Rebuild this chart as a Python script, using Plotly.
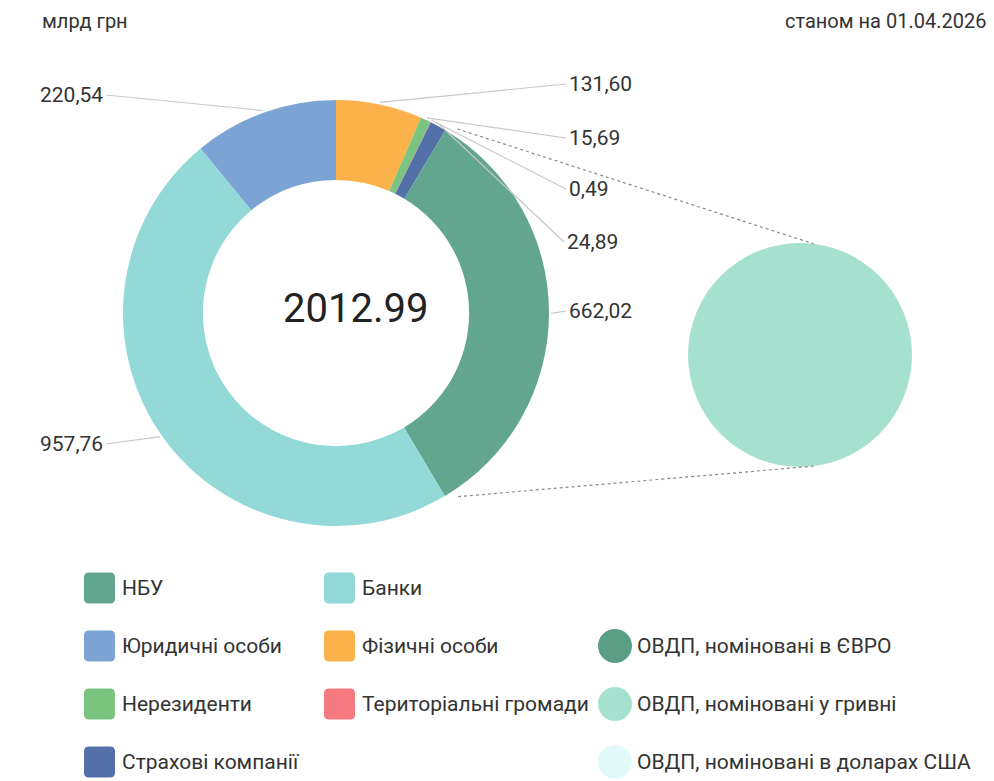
import math
import plotly.graph_objects as go

W, H = 994, 781

# ---------------- data ----------------
categories = ["Фізичні особи", "Нерезиденти", "Територіальні громади",
              "Страхові компанії", "НБУ", "Банки", "Юридичні особи"]
values = [131.60, 15.69, 0.49, 24.89, 662.02, 957.76, 220.54]
value_labels = ["131,60", "15,69", "0,49", "24,89", "662,02", "957,76", "220,54"]
colors = ["#fbb24b", "#7bc47f", "#f47a80", "#5470a8", "#62a690", "#93d9d8", "#7ba3d3"]

ovdp_labels = ["ОВДП, номіновані в ЄВРО", "ОВДП, номіновані у гривні",
               "ОВДП, номіновані в доларах США"]
ovdp_values = [0, 662.02, 0]
ovdp_colors = ["#5a9e85", "#a6e1cf", "#e3fafa"]
breakdown_of = "НБУ"

total_text = "2012.99"
unit_text = "млрд грн"
date_text = "станом на 01.04.2026"

legend_rows = [
    ["НБУ", "Банки", None],
    ["Юридичні особи", "Фізичні особи", "ОВДП, номіновані в ЄВРО"],
    ["Нерезиденти", "Територіальні громади", "ОВДП, номіновані у гривні"],
    ["Страхові компанії", None, "ОВДП, номіновані в доларах США"],
]

# ---------------- layout constants (pixels) ----------------
D_CX, D_CY, D_R = 336, 313, 213
HOLE = 0.625
B_CX, B_CY, B_R = 800, 355, 112

label_pos = {
    "Фізичні особи": (567, 84, "left"),
    "Нерезиденти": (567, 138, "left"),
    "Територіальні громади": (567, 189, "left"),
    "Страхові компанії": (565, 242, "left"),
    "НБУ": (567, 311, "left"),
    "Банки": (105, 444, "right"),
    "Юридичні особи": (105, 95, "right"),
}

FONT = "Roboto, 'Open Sans', sans-serif"
TXT = "#333333"


def dom(cx, cy, r):
    return dict(x=[(cx - r) / W, (cx + r) / W], y=[1 - (cy + r) / H, 1 - (cy - r) / H])


def ring_point(frac, r):
    a = 2 * math.pi * frac
    return D_CX + r * math.sin(a), D_CY - r * math.cos(a)


fig = go.Figure()

fig.add_trace(go.Pie(
    labels=categories, values=values, hole=HOLE, sort=False, direction="clockwise",
    rotation=0, marker=dict(colors=colors, line=dict(width=0)),
    textinfo="none", showlegend=False, domain=dom(D_CX, D_CY, D_R),
))
fig.add_trace(go.Pie(
    labels=ovdp_labels, values=ovdp_values, sort=False, direction="clockwise",
    marker=dict(colors=ovdp_colors, line=dict(width=0)),
    textinfo="none", showlegend=False, domain=dom(B_CX, B_CY, B_R),
))

# invisible pixel-space axes for annotations/shapes
fig.add_trace(go.Scatter(x=[0, W], y=[0, H], mode="markers", marker=dict(opacity=0),
                         hoverinfo="skip", showlegend=False))

shapes = []
annotations = []

total = sum(values)
cum = 0.0
for cat, v, lab in zip(categories, values, value_labels):
    start = cum / total
    end = (cum + v) / total
    mid = (start + end) / 2
    cum += v
    px, py = ring_point(mid, D_R * 1.01)
    lx, ly, side = label_pos[cat]
    ex = lx - 1 if side == "left" else lx + 1
    shapes.append(dict(type="line", xref="x", yref="y", x0=px, y0=py, x1=ex, y1=ly,
                       line=dict(color="#c8c8c8", width=1.2)))
    annotations.append(dict(x=lx, y=ly, xref="x", yref="y", text=lab, showarrow=False,
                            xanchor=side, yanchor="middle",
                            font=dict(family=FONT, size=21, color=TXT)))
    if cat == breakdown_of:
        tdx = B_R * math.sin(math.radians(7))
        tdy = B_R * math.cos(math.radians(7))
        for frac, ty in ((start + 0.007, B_CY - tdy), (end - 0.008, B_CY + tdy)):
            sx, sy = ring_point(frac, D_R * 1.035)
            shapes.append(dict(type="line", xref="x", yref="y", x0=sx, y0=sy,
                               x1=B_CX + tdx, y1=ty,
                               line=dict(color="#8a8a8a", width=1.2, dash="dot")))

annotations.append(dict(x=355, y=308, xref="x", yref="y", text=total_text, showarrow=False,
                        xanchor="center", yanchor="middle",
                        font=dict(family=FONT, size=40, color="#222222")))
annotations.append(dict(x=40, y=21, xref="x", yref="y", text=unit_text, showarrow=False,
                        xanchor="left", yanchor="middle",
                        font=dict(family=FONT, size=20, color=TXT)))
annotations.append(dict(x=988, y=21, xref="x", yref="y", text=date_text, showarrow=False,
                        xanchor="right", yanchor="middle",
                        font=dict(family=FONT, size=20, color=TXT)))

# legend (manual grid)
color_of = dict(zip(categories, colors))
color_of.update(dict(zip(ovdp_labels, ovdp_colors)))
col_x = [84, 324, 598]
row_y = [588, 646, 704, 762]
SW = 31
RAD = 5
for ri, row in enumerate(legend_rows):
    for ci, name in enumerate(row):
        if name is None:
            continue
        x0 = col_x[ci]
        yc = row_y[ri]
        c = color_of[name]
        if name in ovdp_labels:
            r = 17
            shapes.append(dict(type="circle", xref="x", yref="y", x0=x0, x1=x0 + 2 * r,
                               y0=yc - r, y1=yc + r, fillcolor=c, line=dict(width=0)))
            tx = x0 + 2 * r + 3
        else:
            y0, y1, x1 = yc - SW / 2, yc + SW / 2, x0 + SW
            path = (f"M {x0+RAD},{y0} L {x1-RAD},{y0} Q {x1},{y0} {x1},{y0+RAD} "
                    f"L {x1},{y1-RAD} Q {x1},{y1} {x1-RAD},{y1} L {x0+RAD},{y1} "
                    f"Q {x0},{y1} {x0},{y1-RAD} L {x0},{y0+RAD} Q {x0},{y0} {x0+RAD},{y0} Z")
            shapes.append(dict(type="path", xref="x", yref="y", path=path,
                               fillcolor=c, line=dict(width=0)))
            tx = x1 + 5
        annotations.append(dict(x=tx, y=yc, xref="x", yref="y", text=name, showarrow=False,
                                xanchor="left", yanchor="middle",
                                font=dict(family=FONT, size=21, color=TXT)))

fig.update_layout(
    width=W, height=H, margin=dict(l=0, r=0, t=0, b=0),
    paper_bgcolor="white", plot_bgcolor="white",
    xaxis=dict(range=[0, W], visible=False, domain=[0, 1], fixedrange=True),
    yaxis=dict(range=[H, 0], visible=False, domain=[0, 1], fixedrange=True),
    shapes=shapes, annotations=annotations, showlegend=False,
)

fig.write_html("out.html")
